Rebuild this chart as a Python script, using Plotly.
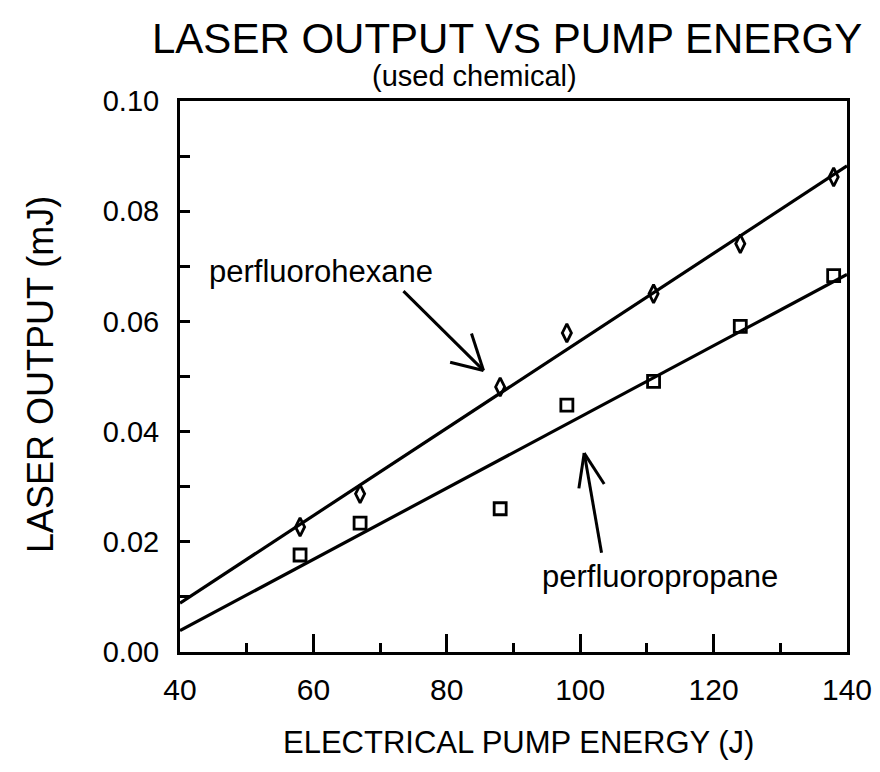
import numpy as np
import plotly.graph_objects as go

# ---- data ----
pump_energy = [58, 67, 88, 98, 111, 124, 138]
hexane_output = [0.0227, 0.0287, 0.0481, 0.0579, 0.0650, 0.0741, 0.0862]
propane_output = [0.0176, 0.0234, 0.0260, 0.0448, 0.0491, 0.0591, 0.0683]
x_range = [40, 140]
y_range = [0.0, 0.10]

# linear fits drawn across the axis range
fit_x = np.array(x_range, dtype=float)
hex_fit = np.polyval(np.polyfit(pump_energy, hexane_output, 1), fit_x)
pro_fit = np.polyval(np.polyfit(pump_energy, propane_output, 1), fit_x)

FONT = "Liberation Sans, Arial, Helvetica, sans-serif"
BLACK = "#000000"

fig = go.Figure()
fig.add_trace(go.Scatter(x=fit_x, y=hex_fit, mode="lines",
                         line=dict(color=BLACK, width=3.2), showlegend=False, hoverinfo="skip"))
fig.add_trace(go.Scatter(x=fit_x, y=pro_fit, mode="lines",
                         line=dict(color=BLACK, width=3.2), showlegend=False, hoverinfo="skip"))
fig.add_trace(go.Scatter(x=pump_energy, y=hexane_output, mode="markers", name="perfluorohexane",
                         marker=dict(symbol="diamond-tall-open", size=13, color=BLACK,
                                     line=dict(color=BLACK, width=2.8)),
                         showlegend=False, cliponaxis=False))
fig.add_trace(go.Scatter(x=pump_energy, y=propane_output, mode="markers", name="perfluoropropane",
                         marker=dict(symbol="square-open", size=12, color=BLACK,
                                     line=dict(color=BLACK, width=2.8)),
                         showlegend=False, cliponaxis=False))

# arrows (shaft + open V head)
def arrow(tail, head, barb1, barb2):
    for p0, p1 in [(tail, head), (barb1, head), (barb2, head)]:
        fig.add_shape(type="line", xref="x", yref="y", x0=p0[0], y0=p0[1], x1=p1[0], y1=p1[1],
                      line=dict(color=BLACK, width=3))

arrow((73.5, 0.0655), (85.5, 0.0511), (80.5, 0.0526), (83.7, 0.0578))
arrow((103.2, 0.0180), (100.6, 0.0361), (99.8, 0.0297), (103.6, 0.0305))

ann = [
    dict(text="LASER OUTPUT VS PUMP ENERGY", x=0.490, y=1.114, xref="paper", yref="paper",
         font=dict(family=FONT, size=42, color=BLACK)),
    dict(text="(used chemical)", x=0.441, y=1.045, xref="paper", yref="paper",
         font=dict(family=FONT, size=29, color=BLACK)),
    dict(text="LASER OUTPUT (mJ)", x=-0.208, y=0.503, xref="paper", yref="paper", textangle=-90,
         font=dict(family=FONT, size=36, color=BLACK)),
    dict(text="ELECTRICAL PUMP ENERGY (J)", x=0.508, y=-0.165, xref="paper", yref="paper",
         font=dict(family=FONT, size=31, color=BLACK)),
    dict(text="perfluorohexane", x=44.0, y=0.0691, xref="x", yref="y", xanchor="left",
         font=dict(family=FONT, size=31, color=BLACK)),
    dict(text="perfluoropropane", x=93.9, y=0.0137, xref="x", yref="y", xanchor="left",
         font=dict(family=FONT, size=31, color=BLACK)),
]
for a in ann:
    a.setdefault("xanchor", "center")
    a.setdefault("yanchor", "middle")
    a["showarrow"] = False
    fig.add_annotation(**a)

# the page body adds an 8px margin, so the figure is sized to fit inside it
fig.update_layout(
    width=864, height=756,
    margin=dict(l=172, r=25, t=93, b=112, autoexpand=False),
    paper_bgcolor="white", plot_bgcolor="white",
    showlegend=False,
)
fig.update_xaxes(range=x_range, showgrid=False, zeroline=False, automargin=False,
                 showline=True, linecolor=BLACK, linewidth=3, mirror=True,
                 tick0=40, dtick=20, ticks="inside", ticklen=18, tickwidth=2.5, tickcolor=BLACK,
                 minor=dict(tick0=40, dtick=10, ticks="inside", ticklen=9, tickwidth=2.5,
                            tickcolor=BLACK, showgrid=False),
                 tickfont=dict(family=FONT, size=30, color=BLACK), ticklabelstandoff=9,
                 ticklabeloverflow="allow")
fig.update_yaxes(range=y_range, showgrid=False, zeroline=False, automargin=False,
                 showline=True, linecolor=BLACK, linewidth=3, mirror=True,
                 tick0=0, dtick=0.02, tickformat=".2f", ticks="inside", ticklen=10, tickwidth=2.5,
                 tickcolor=BLACK,
                 minor=dict(tick0=0, dtick=0.01, ticks="inside", ticklen=10, tickwidth=2.5,
                            tickcolor=BLACK, showgrid=False),
                 tickfont=dict(family=FONT, size=29, color=BLACK), ticklabelstandoff=12)

fig.write_html("out.html")
